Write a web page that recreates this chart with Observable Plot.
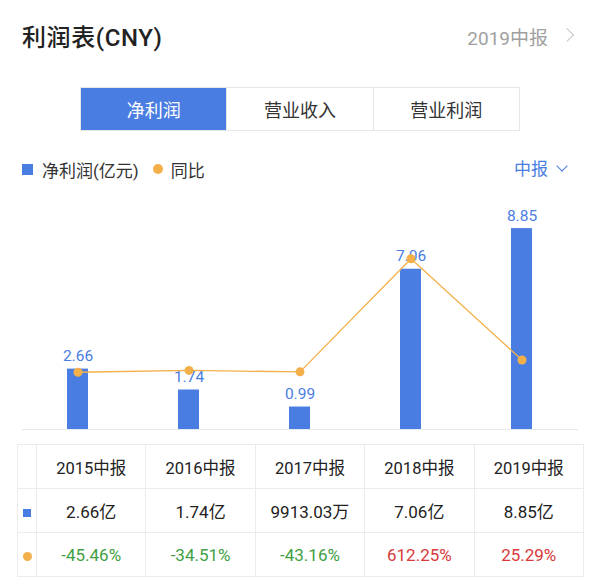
<!DOCTYPE html>
<html>
<head>
<meta charset="utf-8">
<script src="https://cdn.jsdelivr.net/npm/d3@7"></script>
<script src="https://cdn.jsdelivr.net/npm/@observablehq/plot@0.6"></script>
<style>
  html, body { margin: 0; padding: 0; background: #fff; }
  body { width: 600px; height: 588px; position: relative; overflow: hidden;
         font-family: Roboto, "Noto Sans CJK SC", sans-serif; color: #222; }
  .abs { position: absolute; }
  #title { left: 22px; top: 18px; font-size: 24px; font-weight: 500; color: #222; letter-spacing: 0.6px; }
  #period { right: 52px; top: 23px; font-size: 19px; color: #a0a0a0; }
  #chev { right: 28px; top: 26px; width: 9px; height: 9px; border-right: 1.5px solid #c8c8c8; border-top: 1.5px solid #c8c8c8; transform: rotate(45deg); transform-origin: center; margin-top: 4px; }
  #tabs { left: 80px; top: 87px; width: 440px; height: 44px; display: flex; border: 1px solid #e6e6e6; box-sizing: border-box; }
  #tabs div { flex: 1; display: flex; align-items: center; justify-content: center; font-size: 18px; color: #333; }
  #tabs div + div { border-left: 1px solid #e6e6e6; }
  #tabs div.on { background: #4a7de2; color: #fff; }
  #legend { left: 22px; top: 157px; font-size: 17px; color: #333; display: flex; align-items: center; height: 24px; }
  .sq { display: inline-block; width: 11px; height: 11px; background: #4a7de2; margin-right: 9px; }
  .dot { display: inline-block; width: 10px; height: 10px; border-radius: 50%; background: #f3b04a; margin: 0 8px 0 14px; }
  #freq { right: 52px; top: 157px; font-size: 17px; color: #4a7de2; height: 24px; line-height: 24px; }
  #fchev { right: 34px; top: 162px; width: 7px; height: 7px; border-right: 1.5px solid #4a7de2; border-bottom: 1.5px solid #4a7de2; transform: rotate(45deg); }
  #chart { left: 0; top: 190px; }
  #tbl { left: 17px; top: 444px; border-collapse: collapse; table-layout: fixed; }
  #tbl td { border: 1px solid #ececec; text-align: center; font-size: 17px; height: 43px; padding: 0; color: #222; }
  #tbl tr:first-child td { font-size: 16.5px; }
  #tbl td.ic { width: 18px; }
  #tbl td.c { width: 108.4px; }
  #tbl td.green { color: #3f9f44; }
  #tbl td.red { color: #d8393b; }
  .tsq { display: inline-block; width: 8px; height: 8px; background: #4a7de2; }
  .tdot { display: inline-block; width: 9px; height: 9px; border-radius: 50%; background: #f3b04a; }
</style>
</head>
<body>
<div id="title" class="abs">利润表(CNY)</div>
<div id="period" class="abs">2019中报</div>
<div id="chev" class="abs"></div>
<div id="tabs" class="abs"><div class="on">净利润</div><div>营业收入</div><div>营业利润</div></div>
<div id="legend" class="abs"><span class="sq"></span>净利润(亿元)<span class="dot"></span>同比</div>
<div id="freq" class="abs">中报</div>
<div id="fchev" class="abs"></div>
<div id="chart" class="abs"></div>
<table id="tbl" class="abs"></table>
<script>
// ---- data ----
const periods = ["2015中报", "2016中报", "2017中报", "2018中报", "2019中报"];
const netProfit = [2.66, 1.74, 0.99, 7.06, 8.85];           // 亿元
const netProfitText = ["2.66亿", "1.74亿", "9913.03万", "7.06亿", "8.85亿"];
const yoy = [-45.46, -34.51, -43.16, 612.25, 25.29];         // %
const yoyText = ["-45.46%", "-34.51%", "-43.16%", "612.25%", "25.29%"];

const blue = "#4a7de2", orange = "#f3b04a";

const bars = periods.map((p, i) => ({period: p, value: netProfit[i], label: netProfit[i].toFixed(2)}));
// secondary (right) axis for 同比, mapped onto the primary axis units
const y2 = d3.scaleLinear().domain([-377, 938]).range([0, 10]);
const pts = periods.map((p, i) => ({period: p, pct: yoy[i], yv: y2(yoy[i])}));

const chart = Plot.plot({
  width: 600,
  height: 251,
  marginLeft: 22,
  marginRight: 22,
  marginTop: 12,
  marginBottom: 12,
  style: {fontFamily: "Roboto, 'Noto Sans CJK SC', sans-serif", background: "transparent"},
  x: {domain: periods, paddingInner: 0.807, paddingOuter: 0.4035, axis: null},
  y: {domain: [0, 10], axis: null},
  marks: [
    Plot.ruleY([0], {stroke: "#e6e9ef", strokeWidth: 1}),
    Plot.barY(bars, {x: "period", y: "value", fill: blue}),
    Plot.text(bars, {x: "period", y: "value", text: "label", dy: -13, fill: blue, fontSize: 15.5}),
    Plot.line(pts, {x: "period", y: "yv", stroke: orange, strokeWidth: 1.3}),
    Plot.dot(pts, {x: "period", y: "yv", r: 4.5, fill: orange})
  ]
});
document.getElementById("chart").appendChild(chart);

// ---- table ----
const tbl = document.getElementById("tbl");
let html = "<tr><td class='ic'></td>" + periods.map(p => `<td class='c'>${p}</td>`).join("") + "</tr>";
html += "<tr><td class='ic'><span class='tsq'></span></td>" + netProfitText.map(t => `<td class='c'>${t}</td>`).join("") + "</tr>";
html += "<tr><td class='ic'><span class='tdot'></span></td>" + yoy.map((v, i) => `<td class='c ${v < 0 ? "green" : "red"}'>${yoyText[i]}</td>`).join("") + "</tr>";
tbl.innerHTML = html;
</script>
</body>
</html>
